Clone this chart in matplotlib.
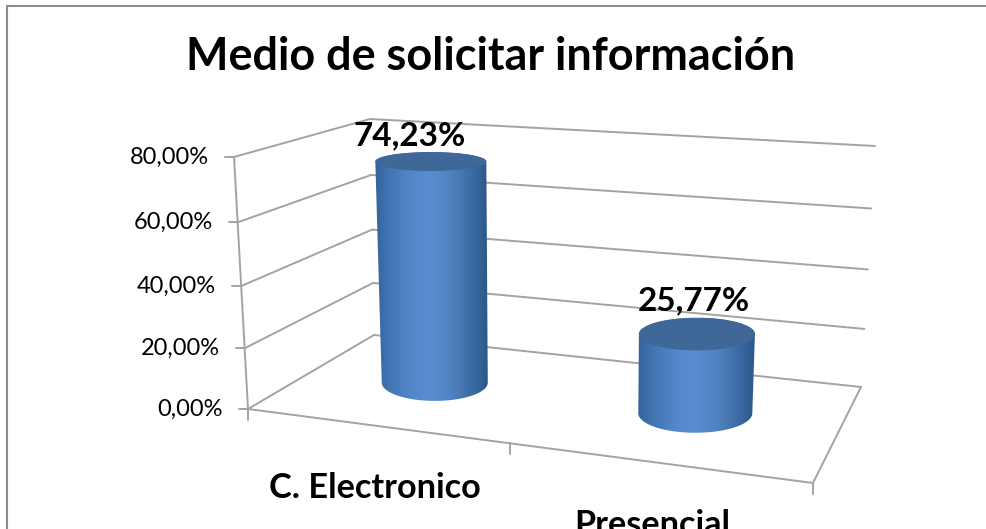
#3D-look cylinder chart: walls, floor and cylinders projected from chart values to the picture.
import numpy as np
import matplotlib
matplotlib.use('Agg')
import matplotlib.pyplot as plt
from matplotlib.colors import LinearSegmentedColormap
from matplotlib.patches import Ellipse, Polygon

plt.rcParams['font.family'] = ['Lato', 'DejaVu Sans']

# Data
TITLE = 'Medio de solicitar información'
categories = ['C. Electronico', 'Presencial']
values = [74.23, 25.77]
value_labels = ['74,23%', '25,77%']
y_ticks = [0, 20, 40, 60, 80]
y_tick_labels = ['0,00%', '20,00%', '40,00%', '60,00%', '80,00%']

# Layout: corners of the chart box, in picture pixels
W, H = 986, 529
FLOOR = [(248, 409), (813, 483), (861, 387), (374, 335)]    # front-left, front-right, back-right, back-left
WALL_TOP = {(248, 409): (234, 157), (374, 335): (370, 119), (861, 387): (875, 146)}
Y_MAX = 80.0
PERSP = 1.05
DEPTH = 0.505
CYL_RX = [(53, 55.5), (57, 58)]   # bottom, top half widths
LABEL_OFFSET = [(-21, -16), (-3, -24)]
CAT_LABEL_POS = [(375, 498), (652, 535)]
LINE = '#a3a3a3'
TEXT = '#000000'
CAP = '#3f6898'
SIDE = LinearSegmentedColormap.from_list(
    'side', ['#35649c', '#4579b8', '#5488cb', '#5a8dd0', '#5083c2', '#3f6fa8', '#2d578a'])


def homography(pts):
    src = [(0, 0), (1, 0), (1, 1), (0, 1)]
    a, b = [], []
    for (u, v), (x, y) in zip(src, pts):
        a.append([u, v, 1, 0, 0, 0, -u * x, -v * x])
        a.append([0, 0, 0, u, v, 1, -u * y, -v * y])
        b += [x, y]
    return np.append(np.linalg.solve(np.array(a, float), np.array(b, float)), 1).reshape(3, 3)


H_FLOOR = homography(FLOOR)

# full-height lean and height of a vertical, as a plane over the floor pixels
base = np.array([[1, x, y] for x, y in WALL_TOP], float)
lean = np.linalg.solve(base, np.array([t[0] - f[0] for f, t in WALL_TOP.items()], float))
rise = np.linalg.solve(base, np.array([t[1] - f[1] for f, t in WALL_TOP.items()], float))


def project(u, v, w):
    p = H_FLOOR @ np.array([u, v, 1.0])
    x, y = p[:2] / p[2]
    t = w / Y_MAX
    f = t / (t + (1 - t) * PERSP)
    q = np.array([1, x, y])
    return np.array([x + (q @ lean) * f, y + (q @ rise) * f])


def ell_ry(y):
    # ellipses open up towards the bottom of the picture
    return 9.5 + 0.04 * (y - 162)


def draw(ax, a, b):
    ax.plot([a[0], b[0]], [a[1], b[1]], color=LINE, lw=1.4, zorder=1, solid_capstyle='round')


fig = plt.figure(figsize=(W / 100, H / 100), dpi=100, facecolor='white')
ax = fig.add_axes([0, 0, 1, 1])
ax.set_xlim(0, W)
ax.set_ylim(H, 0)
ax.axis('off')

# Outer frame (only left and top reach the picture)
ax.plot([6.5, 6.5, W], [H, 6, 6], color='#8c8c8c', lw=1.5, zorder=1, solid_joinstyle='miter')

ax.text(491, 70, TITLE, ha='center', va='baseline', fontsize=32.4, fontweight='bold', color=TEXT)

# Walls: one broken line per tick, left wall then back wall
for w, lab in zip(y_ticks, y_tick_labels):
    fl = project(0, 0, w)
    bl = project(0, 1, w)
    br = project(1, 1, w)
    draw(ax, fl, bl)
    draw(ax, bl, br)
    draw(ax, (fl[0] - 9, fl[1]), fl)
    ax.text(fl[0] - 25, fl[1] + 0.5, lab, ha='right', va='center', fontsize=17, color=TEXT)
draw(ax, project(0, 0, 0), project(0, 0, Y_MAX))

# Floor front and right edges, category ticks
draw(ax, project(0, 0, 0), project(1, 0, 0))
draw(ax, project(1, 0, 0), project(1, 1, 0))
for i in range(len(categories) + 1):
    p = project(i / len(categories), 0, 0)
    draw(ax, p, (p[0], p[1] + 11))

# Cylinders
for i, val in enumerate(values):
    u = (i + 0.5) / len(values)
    bx, by = project(u, DEPTH, 0)
    tx, ty = project(u, DEPTH, val)
    rxb, rxt = CYL_RX[i]
    ryb, ryt = ell_ry(by), ell_ry(ty)

    # body outline: lower half of the bottom ellipse, upper half of the top one
    a1 = np.linspace(np.pi, 0, 60)
    a2 = np.linspace(0, -np.pi, 60)
    outline = np.vstack([
        np.c_[bx + rxb * np.cos(a1), by + ryb * np.sin(a1)],
        np.c_[tx + rxt * np.cos(a2), ty + ryt * np.sin(a2)],
    ])
    patch = Polygon(outline, closed=True, fc='none', ec='none', zorder=2)
    ax.add_patch(patch)
    x0, x1 = outline[:, 0].min(), outline[:, 0].max()
    y0, y1 = outline[:, 1].min(), outline[:, 1].max()
    im = ax.imshow(np.linspace(0, 1, 256)[None, :], extent=(x0, x1, y1, y0), aspect='auto',
                   cmap=SIDE, zorder=2, interpolation='bilinear')
    im.set_clip_path(patch)
    ax.add_patch(Ellipse((tx, ty), 2 * rxt, 2 * ryt, fc=CAP, ec='none', zorder=3))

    dx, dy = LABEL_OFFSET[i]
    ax.text(tx + dx, ty + dy, value_labels[i], ha='center', va='baseline', fontsize=24,
            fontweight='bold', color=TEXT, zorder=4)

ax.set_xlim(0, W)
ax.set_ylim(H, 0)

for name, (x, y) in zip(categories, CAT_LABEL_POS):
    ax.text(x, y, name, ha='center', va='baseline', fontsize=24.7, fontweight='bold', color=TEXT)

fig.savefig('out.png', dpi=100, facecolor='white')
plt.close()
